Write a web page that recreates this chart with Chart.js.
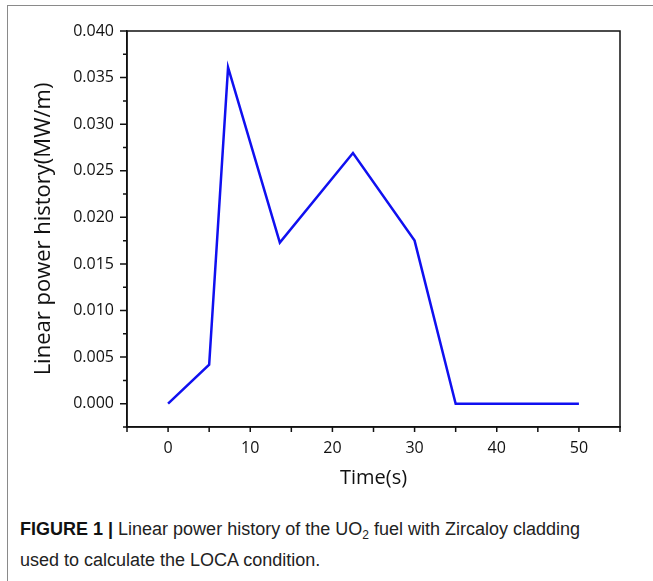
<!DOCTYPE html>
<html>
<head>
<meta charset="utf-8">
<script src="https://cdn.jsdelivr.net/npm/chart.js@4.4.1/dist/chart.umd.min.js"></script>
<style>
  html, body { margin: 0; padding: 0; background: #fff; }
  body { width: 653px; height: 581px; position: relative; overflow: hidden; }
  .frame { position: absolute; left: 7px; top: 5px; right: -2px; bottom: -2px; border-top: 1px solid #8a8a8a; border-left: 1px solid #8a8a8a; }
  .wrap { position: absolute; left: 0; top: 0; width: 653px; height: 500px; }
  .caption { position: absolute; left: 20px; top: 514px; width: 720px; font-family: "Liberation Sans", Arial, sans-serif; font-size: 18px; line-height: 31px; color: #222; white-space: nowrap; }
  .caption b { color: #111; }
  .caption sub { font-size: 12px; line-height: 0; vertical-align: baseline; position: relative; top: 4px; }
</style>
</head>
<body>
<div class="frame"></div>
<div class="wrap"><canvas id="powerChart"></canvas></div>
<div class="caption"><b>FIGURE 1 |</b> Linear power history of the UO<sub>2</sub> fuel with Zircaloy cladding<br>used to calculate the LOCA condition.</div>
<script>
// 시간(s) / 선출력(MW/m) - 그림에서 읽은 값
const timeVals = [0, 5, 7.3, 13.6, 22.5, 30, 35, 50];
const powerVals = [0, 0.0042, 0.0361, 0.0173, 0.0269, 0.0175, 0, 0];

const xTitle = 'Time(s)';
const yTitle = 'Linear power history(MW/m)';

const tickFont = { family: 'Open Sans', size: 16 };

// 플롯 테두리 + 눈금(주/보조 길이 다르게)
const boxPlugin = {
  id: 'box',
  afterDraw(chart) {
    const { ctx, chartArea: a, scales } = chart;
    ctx.save();
    ctx.strokeStyle = '#111';
    ctx.lineWidth = 1.5;
    ctx.strokeRect(a.left, a.top, a.right - a.left, a.bottom - a.top);
    ctx.beginPath();
    scales.y.ticks.forEach((t) => {
      const py = scales.y.getPixelForValue(t.value);
      const major = Math.round(t.value / 0.0025) % 2 === 0;
      ctx.moveTo(a.left, py);
      ctx.lineTo(a.left - (major ? 7 : 4), py);
    });
    scales.x.ticks.forEach((t) => {
      const px = scales.x.getPixelForValue(t.value);
      ctx.moveTo(px, a.bottom);
      ctx.lineTo(px, a.bottom + 5);
    });
    ctx.stroke();
    ctx.restore();
  }
};

new Chart(document.getElementById('powerChart'), {
  type: 'line',
  data: {
    datasets: [{
      data: timeVals.map((t, i) => ({ x: t, y: powerVals[i] })),
      borderColor: '#1010f0',
      borderWidth: 2.5,
      pointRadius: 0,
      tension: 0,
      fill: false
    }]
  },
  options: {
    responsive: true,
    maintainAspectRatio: false,
    animation: false,
    layout: { padding: { left: 20, top: 31, right: 33, bottom: 0 } },
    plugins: { legend: { display: false }, tooltip: { enabled: false } },
    scales: {
      x: {
        type: 'linear',
        min: -5,
        max: 55,
        afterFit(scale) { scale.height = 73; },
        border: { display: true, color: '#111', width: 1.5 },
        grid: { drawOnChartArea: false, drawTicks: false },
        ticks: {
          stepSize: 5,
          autoSkip: false,
          maxRotation: 0,
          padding: 12,
          color: '#111',
          font: tickFont,
          callback: (v) => (Math.round(v) % 10 === 0 ? String(Math.round(v)) : '')
        },
        title: {
          display: true,
          text: xTitle,
          color: '#111',
          font: { family: 'Open Sans', size: 20, weight: '500' },
          padding: { top: 0, bottom: 10 }
        }
      },
      y: {
        min: -0.0025,
        max: 0.04,
        afterFit(scale) { scale.width = 107; },
        border: { display: true, color: '#111', width: 1.5 },
        grid: { drawOnChartArea: false, drawTicks: false },
        ticks: {
          stepSize: 0.0025,
          autoSkip: false,
          padding: 13,
          color: '#111',
          font: tickFont,
          callback: (v) => {
            const k = Math.round(v / 0.0025);
            return k % 2 === 0 ? (k * 0.0025).toFixed(3) : '';
          }
        },
        title: {
          display: true,
          text: yTitle,
          color: '#111',
          font: { family: 'Open Sans', size: 22, weight: '500' },
          padding: { top: 11, bottom: 0 }
        }
      }
    }
  },
  plugins: [boxPlugin]
});
</script>
</body>
</html>
